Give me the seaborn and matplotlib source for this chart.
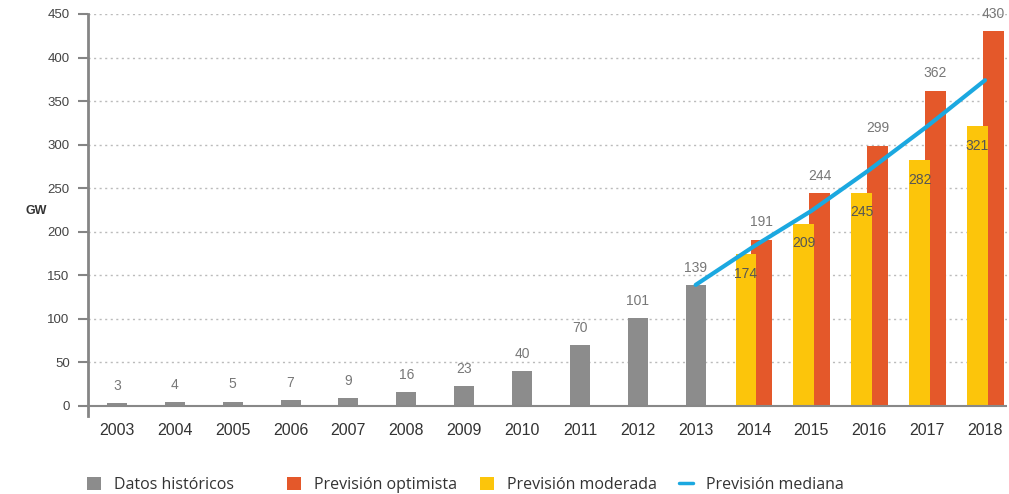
import matplotlib
matplotlib.use("Agg")
import matplotlib.pyplot as plt
import seaborn as sns
import pandas as pd
from matplotlib.patches import Patch
from matplotlib.lines import Line2D

# data
years_hist = [2003, 2004, 2005, 2006, 2007, 2008, 2009, 2010, 2011, 2012, 2013]
hist = [3, 4, 5, 7, 9, 16, 23, 40, 70, 101, 139]
years_fc = [2014, 2015, 2016, 2017, 2018]
optimista = [191, 244, 299, 362, 430]
moderada = [174, 209, 245, 282, 321]
years_med = [2013, 2014, 2015, 2016, 2017, 2018]
mediana = [139, 183, 224, 271, 321, 374]
all_years = years_hist + years_fc

GRAY = "#8c8c8c"
ORANGE = "#e4582a"
YELLOW = "#fcc50b"
BLUE = "#1ba8e0"

sns.set_style("white")
plt.rcParams["font.family"] = ["Liberation Sans", "DejaVu Sans"]

fig = plt.figure(figsize=(10.09, 4.94), dpi=100)
ax = fig.add_axes([88 / 1009, 78 / 494, 919 / 1009, 402 / 494])

off_y, off_o = -0.13, 0.145
df_h = pd.DataFrame({"x": years_hist, "v": hist})
df_o = pd.DataFrame({"x": [y + off_o for y in years_fc], "v": optimista})
df_m = pd.DataFrame({"x": [y + off_y for y in years_fc], "v": moderada})

sns.barplot(data=df_h, x="x", y="v", native_scale=True, width=0.345, color=GRAY,
            saturation=1, linewidth=0, errorbar=None, ax=ax)
sns.barplot(data=df_o, x="x", y="v", native_scale=True, width=0.36, color=ORANGE,
            saturation=1, linewidth=0, errorbar=None, ax=ax)
sns.barplot(data=df_m, x="x", y="v", native_scale=True, width=0.36, color=YELLOW,
            saturation=1, linewidth=0, errorbar=None, ax=ax)
sns.lineplot(x=years_med, y=mediana, color=BLUE, linewidth=3, ax=ax, zorder=5)

# value labels
for x, v in zip(years_hist, hist):
    ax.annotate(str(v), (x, v), xytext=(0, 12.5), textcoords="offset points",
                ha="center", va="center", fontsize=10, color="#777777")
for x, v in zip(years_fc, optimista):
    ax.annotate(str(v), (x + off_o, v), xytext=(0, 12.5), textcoords="offset points",
                ha="center", va="center", fontsize=10, color="#777777")
for x, v in zip(years_fc, moderada):
    ax.annotate(str(v), (x + off_y, v), xytext=(0, -14), textcoords="offset points",
                ha="center", va="center", fontsize=10, color="#555555", zorder=6)

ax.set_xlim(2002.5, 2018.38)
ax.set_ylim(-11.5, 450)
ax.set_yticks(range(0, 451, 50))
ax.set_xticks(all_years)
ax.set_xticklabels([str(y) for y in all_years])
ax.set_xlabel("")
ax.set_ylabel("")

for y in range(50, 451, 50):
    ax.axhline(y, color="#bbbbbb", linestyle=(0, (1.5, 2.5)), linewidth=1, zorder=0)
ax.axhline(0, color="#888888", linewidth=1.5, zorder=4)

for s in ["top", "right", "bottom"]:
    ax.spines[s].set_visible(False)
ax.spines["left"].set_color("#858585")
ax.spines["left"].set_linewidth(2)

ax.tick_params(axis="y", length=7.2, width=1.5, color="#858585", pad=6,
               labelsize=9.5, labelcolor="#444444", left=True)
ax.tick_params(axis="x", length=0, pad=5, labelsize=11.5, labelcolor="#333333")

fig.text(25 / 1009, 1 - 211 / 494, "GW", fontsize=9, fontweight="bold",
         color="#333333", ha="left", va="center")

# legend, one entry at a time to keep the original spacing
items = [
    (Patch(facecolor=GRAY, edgecolor="none"), "Datos históricos", 87),
    (Patch(facecolor=ORANGE, edgecolor="none"), "Previsión optimista", 287),
    (Patch(facecolor=YELLOW, edgecolor="none"), "Previsión moderada", 480),
    (Line2D([], [], color=BLUE, linewidth=2.5), "Previsión mediana", 679),
]
for h, lab, x0 in items:
    fig.legend(handles=[h], labels=[lab], loc="center left",
               bbox_to_anchor=(x0 / 1009, 9 / 494), frameon=False,
               borderpad=0, borderaxespad=0, handlelength=0.85, handleheight=0.85,
               handletextpad=0.85, prop={"family": "Open Sans", "size": 11.5},
               labelcolor="#333333")

fig.savefig("out.png", dpi=100, facecolor="white")
